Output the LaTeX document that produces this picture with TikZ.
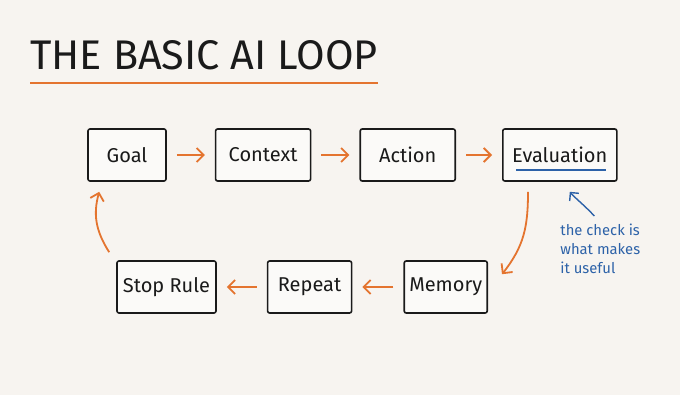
\documentclass[tikz,border=0pt]{standalone}
\usepackage{fontspec}
\setmainfont{Fira Sans}
\usepackage{xcolor}
\usetikzlibrary{positioning, arrows.meta}
\definecolor{ink}{HTML}{1A1A1A}
\definecolor{accent}{HTML}{E4742F}
\definecolor{note}{HTML}{2D62A8}
\definecolor{paper}{HTML}{F7F4F0}

\begin{document}
\begin{tikzpicture}[x=0.5pt, y=-0.5pt,
      node distance=24pt,
      box/.style={draw=ink, fill=paper!50!white, line width=0.8pt, rounded corners=1pt,
                  minimum height=26pt, inner xsep=0pt, text=ink,
                  font=\fontsize{10}{11}\selectfont},
      arrow/.style={-{Straight Barb[length=3.5pt, width=7pt]}, accent, line width=0.9pt,
                    shorten >=5pt, shorten <=5pt},
      curve/.style={arrow, shorten >=0pt, shorten <=0pt},
      hint/.style={-{Straight Barb[length=3pt, width=6pt]}, note, line width=0.7pt}]
    \fill[paper] (0,0) rectangle (680,395);
    % title
    \node[anchor=base west, inner sep=0pt, text=ink, font=\fontsize{20.7}{24}\selectfont]
      (title) at (30,70) {THE BASIC AI LOOP};
    \draw[accent, line width=1pt] ([yshift=-6.5pt]title.base west) -- ([yshift=-6.5pt]title.base east);
    % top row
    \node[box, minimum width=39pt]                  (goal) at (127,155) {Goal};
    \node[box, minimum width=47.5pt, right=of goal]  (ctx)  {Context};
    \node[box, minimum width=47.5pt, right=of ctx]   (act)  {Action};
    \node[box, minimum width=57pt, right=23pt of act] (eval) {Evaluation};
    % bottom row
    \node[box, minimum width=49.5pt]                   (stop) at (166.5,287) {Stop Rule};
    \node[box, minimum width=42pt, right=25pt of stop]  (rep)  {Repeat};
    \node[box, minimum width=41.5pt, right=25.5pt of rep] (mem) {Memory};
    \draw[note, line width=0.8pt] ([xshift=7pt, yshift=6pt]eval.south west) -- ([xshift=-6pt, yshift=6pt]eval.south east);
    % loop
    \draw[arrow] (goal) -- (ctx);
    \draw[arrow] (ctx)  -- (act);
    \draw[arrow] (act)  -- (eval);
    \draw[curve] ([xshift=13pt, yshift=-5pt]eval.south west)
      .. controls +(0,35) and +(22,-28) .. ([xshift=7pt, yshift=-7pt]mem.north east);
    \draw[arrow] (mem)  -- (rep);
    \draw[arrow] (rep)  -- (stop);
    \draw[curve] ([xshift=-3.5pt, yshift=4pt]stop.north west)
      .. controls +(-14,-22) and +(-6,22) .. ([xshift=6pt, yshift=-5pt]goal.south west);
    % side note
    \node[anchor=north west, inner sep=0pt, align=left, text=note,
          font=\fontsize{7.4}{9.5}\selectfont] (tip) at (560,224)
      {the check is\\what makes\\it useful};
    \draw[hint] ([xshift=-3pt, yshift=4pt]tip.north)
      .. controls +(-8,-9) and +(5,6) .. ([xshift=5pt, yshift=-5pt]eval.south);
  \end{tikzpicture}
\end{document}
